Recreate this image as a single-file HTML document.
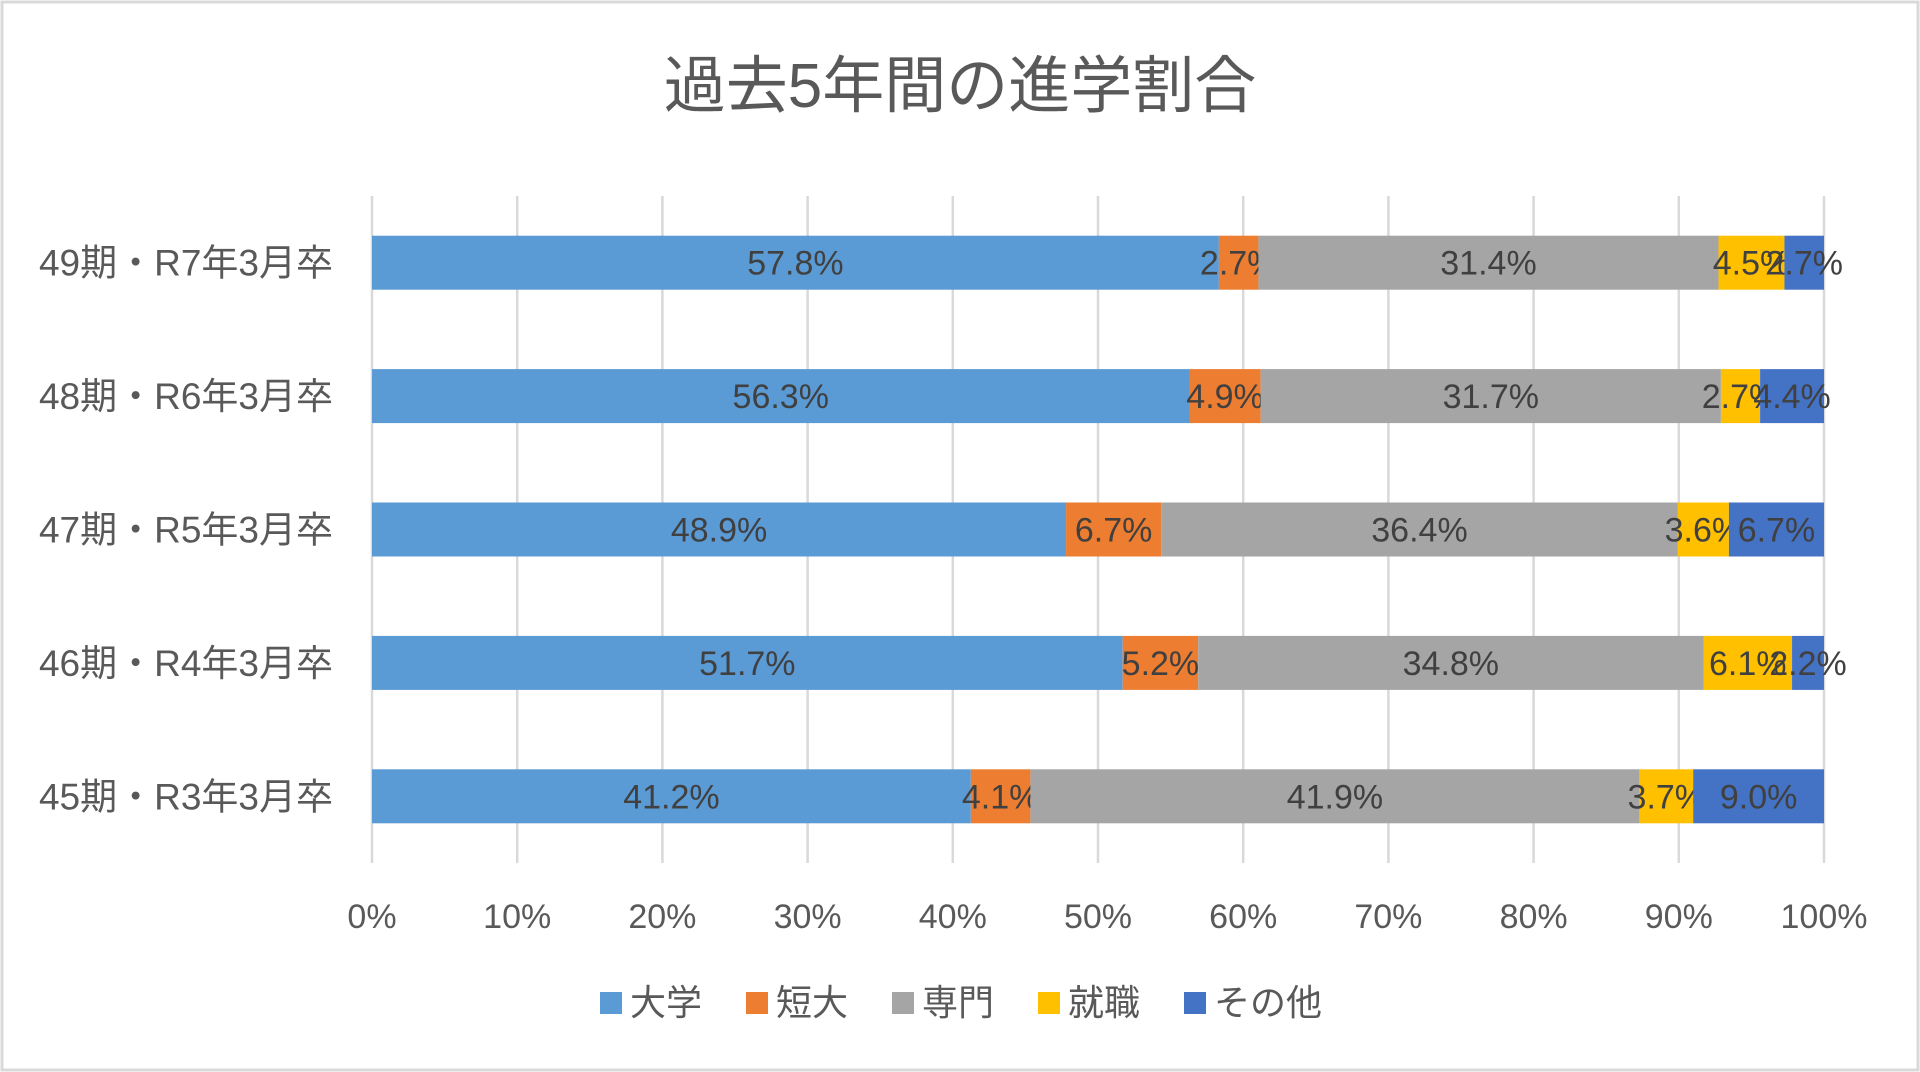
<!DOCTYPE html>
<html><head><meta charset="utf-8"><style>
html,body{margin:0;padding:0;background:#fff;}
svg{display:block;font-family:"Liberation Sans","Noto Sans CJK JP",sans-serif;}
</style></head><body>
<svg id="chart" width="1920" height="1072" viewBox="0 0 1920 1072" xmlns="http://www.w3.org/2000/svg">
<rect x="2" y="2" width="1916" height="1068" fill="#fff" stroke="#d9d9d9" stroke-width="3"/>
<text x="960" y="107" text-anchor="middle" font-size="62" fill="#595959">過去5年間の進学割合</text>
<g id="grid"></g>
<g id="bars"></g>
<g id="xt"></g>
<g id="cats"></g>
<g id="legend"></g>
</svg>
<script>
const categories = ["49期・R7年3月卒","48期・R6年3月卒","47期・R5年3月卒","46期・R4年3月卒","45期・R3年3月卒"];
const seriesNames = ["大学","短大","専門","就職","その他"];
const daigaku = [57.8,56.3,48.9,51.7,41.2];
const tandai = [2.7,4.9,6.7,5.2,4.1];
const senmon = [31.4,31.7,36.4,34.8,41.9];
const shushoku = [4.5,2.7,3.6,6.1,3.7];
const sonota = [2.7,4.4,6.7,2.2,9.0];
const xTicks = [0,10,20,30,40,50,60,70,80,90,100];
const colors = ["#5B9BD5","#ED7D31","#A5A5A5","#FFC000","#4472C4"];
const series = [daigaku,tandai,senmon,shushoku,sonota];
const NS="http://www.w3.org/2000/svg";
const X0=372,X1=1824,plotTop=196,plotBot=863;
const xs=v=>X0+(X1-X0)*v/100;
const band=(plotBot-plotTop)/categories.length;
const yc=i=>plotTop+band*(i+0.5);
const barH=54;
function mk(tag,attrs,parent){const e=document.createElementNS(NS,tag);for(const k in attrs)e.setAttribute(k,attrs[k]);parent.appendChild(e);return e;}
const grid=document.getElementById('grid'),bars=document.getElementById('bars'),xt=document.getElementById('xt'),cats=document.getElementById('cats'),legend=document.getElementById('legend');
xTicks.forEach(t=>{
  const l=mk('line',{x1:xs(t),x2:xs(t),y1:plotTop,y2:plotBot,stroke:'#d9d9d9','stroke-width':2.5},grid);
  
  
  const tx=mk('text',{x:xs(t),y:928,'text-anchor':'middle','font-size':34,fill:'#595959'},xt);
  
  
  tx.textContent=t+'%';
});
categories.forEach((c,i)=>{
  const tx=mk('text',{x:333,y:yc(i)+13,'text-anchor':'end','font-size':37,fill:'#595959'},cats);
  
  
  tx.textContent=c;
  let tot=0;series.forEach(s=>tot+=s[i]);
  let acc=0;
  series.forEach((s,j)=>{
    const a=acc/tot*100,b=(acc+s[i])/tot*100;acc+=s[i];
    const r=mk('rect',{x:xs(a),y:yc(i)-barH/2,width:xs(b)-xs(a),height:barH,fill:colors[j]},bars);
    
    
    const lt=mk('text',{x:(xs(a)+xs(b))/2,y:yc(i)+12,'text-anchor':'middle','font-size':34,fill:'#404040'},bars);
    
    
    lt.textContent=s[i].toFixed(1)+'%';
  });
});
const legX=[600,746,892,1038,1184];
seriesNames.forEach((n,j)=>{
  const r=mk('rect',{x:legX[j],y:992,width:22,height:22,fill:colors[j]},legend);
  
  
  const t=mk('text',{x:legX[j]+30,y:1015,'font-size':36,fill:'#595959'},legend);
  
  
  t.textContent=n;
});
</script>
</body></html>
